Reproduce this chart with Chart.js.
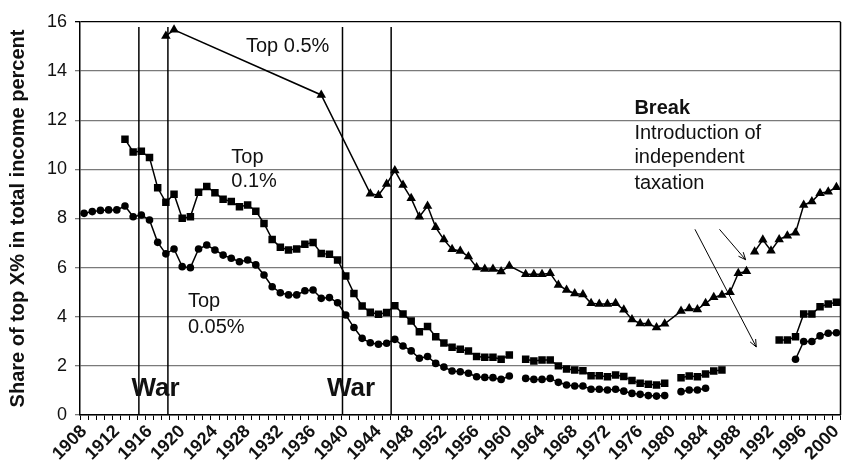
<!DOCTYPE html>
<html lang="en">
<head>
<meta charset="UTF-8">
<title>Top income shares</title>
<script src="https://cdn.jsdelivr.net/npm/chart.js"></script>
<style>
  body { margin: 0; background: #fff; }
  canvas { display: block; }
</style>
</head>
<body>
<canvas id="shareChart" width="846" height="474"></canvas>
<script>
// categories: one per year, 1908..2000
const firstYear = 1908;
const years = [];
for (let a = firstYear; a <= 2000; a++) years.push(String(a));

// Top 0.05% (circles), one value per year, null = no data
const top005 = [
  8.21, 8.28, 8.33, 8.35, 8.35, 8.51, 8.07, 8.14, 7.94, 7.03,   // 1908-1917
  6.56, 6.76, 6.04, 6.00, 6.76, 6.92, 6.72, 6.51, 6.38, 6.24,   // 1918-1927
  6.31, 6.11, 5.70, 5.22, 4.98, 4.89, 4.89, 5.06, 5.09, 4.75,   // 1928-1937
  4.78, 4.57, 4.07, 3.56, 3.12, 2.94, 2.88, 2.92, 3.08, 2.81,   // 1938-1947
  2.61, 2.31, 2.38, 2.10, 1.95, 1.79, 1.76, 1.70, 1.56, 1.53,   // 1948-1957
  1.52, 1.45, 1.59, null, 1.49, 1.45, 1.45, 1.49, 1.33, 1.22,   // 1958-1967
  1.18, 1.18, 1.05, 1.05, 1.02, 1.05, 0.97, 0.88, 0.84, 0.79,   // 1968-1977
  0.77, 0.79, null, 0.95, 1.02, 1.02, 1.09, null, null, null,   // 1978-1987
  null, null, null, null, null, null, null, 2.27, 2.99, 2.99,   // 1988-1997
  3.22, 3.33, 3.35                                              // 1998-2000
];

// Top 0.1% (squares)
const top01 = [
  null, null, null, null, null, 11.23, 10.71, 10.74, 10.48, 9.25, // 1908-1917
  8.66, 8.99, 8.01, 8.07, 9.07, 9.30, 9.05, 8.78, 8.69, 8.48,   // 1918-1927
  8.55, 8.30, 7.80, 7.15, 6.83, 6.72, 6.76, 6.95, 7.02, 6.58,   // 1928-1937
  6.54, 6.31, 5.66, 4.95, 4.44, 4.18, 4.10, 4.17, 4.45, 4.11,   // 1938-1947
  3.83, 3.39, 3.60, 3.19, 2.93, 2.76, 2.68, 2.61, 2.38, 2.35,   // 1948-1957
  2.35, 2.27, 2.44, null, 2.27, 2.20, 2.24, 2.24, 2.00, 1.87,   // 1958-1967
  1.83, 1.80, 1.60, 1.60, 1.56, 1.63, 1.57, 1.40, 1.29, 1.25,   // 1968-1977
  1.22, 1.29, null, 1.52, 1.59, 1.56, 1.67, 1.79, 1.83, null,   // 1978-1987
  null, null, null, null, null, 3.05, 3.05, 3.19, 4.11, 4.11,   // 1988-1997
  4.41, 4.52, 4.59                                              // 1998-2000
];

// Top 0.5% (triangles)
const top05 = [
  null, null, null, null, null, null, null, null, null, null,   // 1908-1917
  15.43, 15.68, null, null, null, null, null, null, null, null, // 1918-1927
  null, null, null, null, null, null, null, null, null, 13.03,  // 1928-1937
  null, null, null, null, null, 9.01, 8.95, 9.40, 9.95, 9.36,   // 1938-1947
  8.82, 8.07, 8.51, 7.64, 7.14, 6.75, 6.68, 6.45, 6.01, 5.94,   // 1948-1957
  5.94, 5.84, 6.07, null, 5.73, 5.73, 5.73, 5.77, 5.29, 5.09,   // 1958-1967
  4.95, 4.91, 4.55, 4.52, 4.52, 4.55, 4.28, 3.89, 3.73, 3.73,   // 1968-1977
  3.56, 3.71, null, 4.23, 4.34, 4.30, 4.55, 4.79, 4.89, 5.00,   // 1978-1987
  5.77, 5.85, 6.65, 7.13, 6.69, 7.15, 7.30, 7.42, 8.55, 8.69,   // 1988-1997
  9.03, 9.09, 9.27                                              // 1998-2000
];

// series break (independent taxation): no line into this year
const breakYear = 1990;

// vertical war markers (fractional years) and their top value
const warLines = [1914.7, 1918.25, 1939.6, 1945.55];
const warTop = 15.8;

// arrows pointing at the break, [fromYear, fromValue, toYear, toValue]
const arrows = [
  [1985.7, 7.56, 1988.9, 6.32],
  [1982.7, 7.56, 1990.2, 2.77]
];

// text notes, positioned in year / value units
const notes = [
  { text: 'Top 0.5%', x: 1927.8, y: 15.02, font: '20px' },
  { text: 'Top', x: 1926.0, y: 10.50, font: '20px' },
  { text: '0.1%', x: 1926.0, y: 9.51, font: '20px' },
  { text: 'Top', x: 1920.7, y: 4.61, font: '20px' },
  { text: '0.05%', x: 1920.7, y: 3.56, font: '20px' },
  { text: 'War', x: 1913.8, y: 1.07, font: 'bold 26px' },
  { text: 'War', x: 1937.7, y: 1.07, font: 'bold 26px' },
  { text: 'Break', x: 1975.3, y: 12.48, font: 'bold 20px' },
  { text: 'Introduction of', x: 1975.3, y: 11.47, font: '20px' },
  { text: 'independent', x: 1975.3, y: 10.48, font: '20px' },
  { text: 'taxation', x: 1975.3, y: 9.43, font: '20px' }
];

const fontFamily = "'Liberation Sans', Arial, sans-serif";
Chart.defaults.font.family = fontFamily;
Chart.defaults.color = '#111';

// draws the war lines, arrows, notes and the right border
const overlay = {
  id: 'overlay',
  afterDatasetsDraw(chart) {
    const { ctx, chartArea, scales: { x, y } } = chart;
    const px = yr => x.getPixelForValue(yr - firstYear);
    ctx.save();
    ctx.strokeStyle = '#000';
    ctx.fillStyle = '#111';

    ctx.lineWidth = 1.5;
    ctx.beginPath();
    ctx.moveTo(chartArea.right, chartArea.top);
    ctx.lineTo(chartArea.right, chartArea.bottom);
    ctx.stroke();

    warLines.forEach(yr => {
      ctx.beginPath();
      ctx.moveTo(px(yr), y.getPixelForValue(warTop));
      ctx.lineTo(px(yr), chartArea.bottom);
      ctx.stroke();
    });

    ctx.lineWidth = 1;
    arrows.forEach(([x0, v0, x1, v1]) => {
      const ax = px(x0), ay = y.getPixelForValue(v0);
      const bx = px(x1), by = y.getPixelForValue(v1);
      const ang = Math.atan2(by - ay, bx - ax);
      ctx.beginPath();
      ctx.moveTo(ax, ay);
      ctx.lineTo(bx, by);
      ctx.moveTo(bx - 8 * Math.cos(ang - 0.4), by - 8 * Math.sin(ang - 0.4));
      ctx.lineTo(bx, by);
      ctx.lineTo(bx - 8 * Math.cos(ang + 0.4), by - 8 * Math.sin(ang + 0.4));
      ctx.stroke();
    });

    ctx.textAlign = 'left';
    ctx.textBaseline = 'middle';
    notes.forEach(n => {
      ctx.font = n.font + ' ' + fontFamily;
      ctx.fillText(n.text, px(n.x), y.getPixelForValue(n.y));
    });
    ctx.restore();
  }
};

const lineStyle = {
  borderColor: '#000',
  backgroundColor: '#000',
  borderWidth: 1.5,
  pointBorderColor: '#000',
  pointBackgroundColor: '#000',
  pointBorderWidth: 0,
  tension: 0
};

new Chart(document.getElementById('shareChart'), {
  type: 'line',
  data: {
    labels: years,
    datasets: [
      Object.assign({ label: 'Top 0.5%', data: top05, pointStyle: 'triangle', pointRadius: 5.5,
        spanGaps: true,
        segment: {
          borderColor: c => years[c.p1DataIndex] === String(breakYear) ? 'rgba(0,0,0,0)' : undefined
        } }, lineStyle),
      Object.assign({ label: 'Top 0.1%', data: top01, pointStyle: 'rect', pointRadius: 5.3,
        spanGaps: 2 }, lineStyle),
      Object.assign({ label: 'Top 0.05%', data: top005, pointStyle: 'circle', pointRadius: 3.8,
        spanGaps: 2 }, lineStyle)
    ]
  },
  options: {
    responsive: false,
    animation: false,
    layout: { padding: { top: 22, right: 3, left: 0, bottom: 0 } },
    plugins: {
      legend: { display: false },
      tooltip: { enabled: false }
    },
    scales: {
      x: {
        offset: true,
        afterFit: s => { s.height = 59; s.paddingLeft = 0; s.paddingRight = 0; },
        grid: { offset: true, drawOnChartArea: false, color: '#000', tickLength: 5, lineWidth: 1 },
        border: { color: '#000', width: 1.5 },
        ticks: {
          autoSkip: false,
          minRotation: 45,
          maxRotation: 45,
          padding: 1,
          color: '#111',
          font: { size: 18, weight: 'bold' },
          callback: (v, i) => (Number(years[i]) - firstYear) % 4 === 0 ? years[i] : ''
        }
      },
      y: {
        min: 0,
        max: 16,
        afterFit: s => { s.width = 80; },
        grid: {
          color: c => c.tick.value === 16 ? '#000' : '#7a7a7a',
          lineWidth: 1.3,
          tickLength: 5
        },
        border: { color: '#000', width: 1.5 },
        ticks: { stepSize: 2, padding: 8, color: '#111', font: { size: 18 } },
        title: {
          display: true,
          text: 'Share of top X% in total income percent',
          color: '#111',
          font: { size: 20, weight: 'bold' },
          padding: { top: 6, bottom: 0 }
        }
      }
    }
  },
  plugins: [overlay]
});
</script>
</body>
</html>
